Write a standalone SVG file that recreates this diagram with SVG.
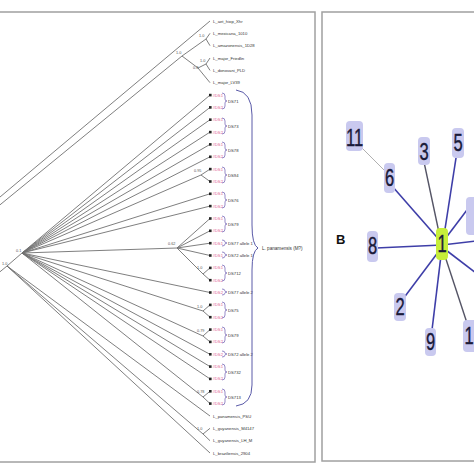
<svg xmlns="http://www.w3.org/2000/svg" width="474" height="474" viewBox="0 0 474 474">
<style>
.frame{fill:none;stroke:#a0a0a0;stroke-width:1.5}
.br{fill:none;stroke:#707070;stroke-width:0.9}
.lf{font-family:"Liberation Sans",Arial,sans-serif;font-size:4.2px;fill:#333}
.pk{font-family:"Liberation Sans",Arial,sans-serif;font-size:4.2px;fill:#e0608f}
.bs{font-family:"Liberation Sans",Arial,sans-serif;font-size:3.8px;fill:#555}
.sq{fill:#222}
.bk{fill:none;stroke:#6a5ab0;stroke-width:0.7}
.big{fill:none;stroke:#5a5aa8;stroke-width:1}
.nb{fill:#c9c9ef;stroke:none}
.nt{font-family:"Liberation Sans",Arial,sans-serif;font-size:23px;fill:#1a1a3a;stroke:#1a1a3a;stroke-width:0.4;text-anchor:middle}
.eb{stroke:#3e3ea8;stroke-width:1.6}
.eg{stroke:#555566;stroke-width:1.4}
.el{stroke:#b0b0b0;stroke-width:1}
</style>
<rect class="frame" x="-10" y="12" width="325" height="450"/>
<rect class="frame" x="322" y="12" width="170" height="449"/>
<g id="tree-branches">
<line class="br" x1="-10" y1="205.4" x2="210" y2="21"/>
<line class="br" x1="-10" y1="213" x2="182" y2="56"/>
<line class="br" x1="182" y1="56" x2="206" y2="39"/>
<line class="br" x1="206" y1="39" x2="210" y2="33.3"/>
<line class="br" x1="206" y1="39" x2="210" y2="45.7"/>
<line class="br" x1="182" y1="56" x2="198" y2="68"/>
<line class="br" x1="198" y1="68" x2="206" y2="64"/>
<line class="br" x1="206" y1="64" x2="210" y2="58"/>
<line class="br" x1="206" y1="64" x2="210" y2="70.4"/>
<line class="br" x1="198" y1="68" x2="210" y2="82.7"/>
<line class="br" x1="-10" y1="280" x2="7" y2="266"/>
<line class="br" x1="7" y1="266" x2="22" y2="253"/>
<line class="br" x1="7" y1="266" x2="210" y2="416"/>
<line class="br" x1="7" y1="266" x2="203" y2="434"/>
<line class="br" x1="203" y1="434" x2="210" y2="428.3"/>
<line class="br" x1="203" y1="434" x2="210" y2="440.7"/>
<line class="br" x1="7" y1="266" x2="210" y2="453"/>
<line class="br" x1="22" y1="253" x2="210" y2="95.1"/>
<line class="br" x1="22" y1="253" x2="210" y2="107.4"/>
<line class="br" x1="22" y1="253" x2="210" y2="119.7"/>
<line class="br" x1="22" y1="253" x2="210" y2="132.1"/>
<line class="br" x1="22" y1="253" x2="210" y2="144.4"/>
<line class="br" x1="22" y1="253" x2="210" y2="156.8"/>
<line class="br" x1="22" y1="253" x2="201" y2="175"/>
<line class="br" x1="201" y1="175" x2="210" y2="169.1"/>
<line class="br" x1="201" y1="175" x2="210" y2="181.5"/>
<line class="br" x1="22" y1="253" x2="210" y2="193.8"/>
<line class="br" x1="22" y1="253" x2="210" y2="206.1"/>
<line class="br" x1="22" y1="253" x2="177" y2="248"/>
<line class="br" x1="177" y1="248" x2="210" y2="218.5"/>
<line class="br" x1="177" y1="248" x2="210" y2="230.8"/>
<line class="br" x1="177" y1="248" x2="210" y2="243.2"/>
<line class="br" x1="177" y1="248" x2="210" y2="255.5"/>
<line class="br" x1="177" y1="248" x2="203" y2="274"/>
<line class="br" x1="203" y1="274" x2="210" y2="267.9"/>
<line class="br" x1="203" y1="274" x2="210" y2="280.2"/>
<line class="br" x1="22" y1="253" x2="210" y2="292.5"/>
<line class="br" x1="22" y1="253" x2="203" y2="311"/>
<line class="br" x1="203" y1="311" x2="210" y2="304.9"/>
<line class="br" x1="203" y1="311" x2="210" y2="317.2"/>
<line class="br" x1="22" y1="253" x2="203" y2="336"/>
<line class="br" x1="203" y1="336" x2="210" y2="329.6"/>
<line class="br" x1="203" y1="336" x2="210" y2="341.9"/>
<line class="br" x1="22" y1="253" x2="210" y2="354.3"/>
<line class="br" x1="22" y1="253" x2="210" y2="366.6"/>
<line class="br" x1="22" y1="253" x2="210" y2="378.9"/>
<line class="br" x1="22" y1="253" x2="203" y2="397"/>
<line class="br" x1="203" y1="397" x2="210" y2="391.3"/>
<line class="br" x1="203" y1="397" x2="210" y2="403.6"/>
</g>
<g id="support-values">
<text class="bs" x="199" y="37">1.0</text>
<text class="bs" x="176" y="54">1.0</text>
<text class="bs" x="200" y="62">1.0</text>
<text class="bs" x="193" y="69">0.8</text>
<text class="bs" x="16" y="252">0.1</text>
<text class="bs" x="2" y="265">1.0</text>
<text class="bs" x="194" y="172">0.95</text>
<text class="bs" x="168" y="245">0.62</text>
<text class="bs" x="197" y="269">1.0</text>
<text class="bs" x="197" y="308">1.0</text>
<text class="bs" x="197" y="332">0.79</text>
<text class="bs" x="197" y="393">0.78</text>
<text class="bs" x="197" y="430">1.0</text>
</g>
<g id="outgroup-leaves">
<text class="lf" x="213" y="22.5">L_aet_hiop_Xhr</text>
<text class="lf" x="213" y="34.8">L_mexicana_1010</text>
<text class="lf" x="213" y="47.2">L_amazonensis_1D28</text>
<text class="lf" x="213" y="59.5">L_major_Friedlin</text>
<text class="lf" x="213" y="71.9">L_donovani_PLD</text>
<text class="lf" x="213" y="84.2">L_major_LV39</text>
<text class="lf" x="213" y="417.5">L_panamensis_PSU</text>
<text class="lf" x="213" y="429.8">L_guyanensis_M4147</text>
<text class="lf" x="213" y="442.2">L_guyanensis_LH_M</text>
<text class="lf" x="213" y="454.5">L_braziliensis_2904</text>
</g>
<g id="panamensis-leaves">
<rect class="sq" x="209" y="93.8" width="2.6" height="2.6"/><text class="pk" x="212.5" y="96.6">#DS1</text>
<rect class="sq" x="209" y="106.1" width="2.6" height="2.6"/><text class="pk" x="212.5" y="108.9">#DS2</text>
<rect class="sq" x="209" y="118.4" width="2.6" height="2.6"/><text class="pk" x="212.5" y="121.2">#DS1</text>
<rect class="sq" x="209" y="130.8" width="2.6" height="2.6"/><text class="pk" x="212.5" y="133.6">#DS2</text>
<rect class="sq" x="209" y="143.1" width="2.6" height="2.6"/><text class="pk" x="212.5" y="145.9">#DS1</text>
<rect class="sq" x="209" y="155.5" width="2.6" height="2.6"/><text class="pk" x="212.5" y="158.3">#DS2</text>
<rect class="sq" x="209" y="167.8" width="2.6" height="2.6"/><text class="pk" x="212.5" y="170.6">#DS1</text>
<rect class="sq" x="209" y="180.2" width="2.6" height="2.6"/><text class="pk" x="212.5" y="183.0">#DS2</text>
<rect class="sq" x="209" y="192.5" width="2.6" height="2.6"/><text class="pk" x="212.5" y="195.3">#DS1</text>
<rect class="sq" x="209" y="204.8" width="2.6" height="2.6"/><text class="pk" x="212.5" y="207.6">#DS2</text>
<rect class="sq" x="209" y="217.2" width="2.6" height="2.6"/><text class="pk" x="212.5" y="220.0">#DS1</text>
<rect class="sq" x="209" y="229.5" width="2.6" height="2.6"/><text class="pk" x="212.5" y="232.3">#DS2</text>
<rect class="sq" x="209" y="241.9" width="2.6" height="2.6"/><text class="pk" x="212.5" y="244.7">#DS1</text>
<rect class="sq" x="209" y="254.2" width="2.6" height="2.6"/><text class="pk" x="212.5" y="257.0">#DS1</text>
<rect class="sq" x="209" y="266.6" width="2.6" height="2.6"/><text class="pk" x="212.5" y="269.4">#DS1</text>
<rect class="sq" x="209" y="278.9" width="2.6" height="2.6"/><text class="pk" x="212.5" y="281.7">#DS2</text>
<rect class="sq" x="209" y="291.2" width="2.6" height="2.6"/><text class="pk" x="212.5" y="294.0">#DS2</text>
<rect class="sq" x="209" y="303.6" width="2.6" height="2.6"/><text class="pk" x="212.5" y="306.4">#DS1</text>
<rect class="sq" x="209" y="315.9" width="2.6" height="2.6"/><text class="pk" x="212.5" y="318.7">#DS2</text>
<rect class="sq" x="209" y="328.3" width="2.6" height="2.6"/><text class="pk" x="212.5" y="331.1">#DS1</text>
<rect class="sq" x="209" y="340.6" width="2.6" height="2.6"/><text class="pk" x="212.5" y="343.4">#DS2</text>
<rect class="sq" x="209" y="353.0" width="2.6" height="2.6"/><text class="pk" x="212.5" y="355.8">#DS2</text>
<rect class="sq" x="209" y="365.3" width="2.6" height="2.6"/><text class="pk" x="212.5" y="368.1">#DS1</text>
<rect class="sq" x="209" y="377.6" width="2.6" height="2.6"/><text class="pk" x="212.5" y="380.4">#DS2</text>
<rect class="sq" x="209" y="390.0" width="2.6" height="2.6"/><text class="pk" x="212.5" y="392.8">#DS1</text>
<rect class="sq" x="209" y="402.3" width="2.6" height="2.6"/><text class="pk" x="212.5" y="405.1">#DS2</text>
</g>
<g id="strain-brackets">
<path class="bk" d="M222,93 q3,0 3,3 v3 q0,2 2,2 q-2,0 -2,2 v3 q0,3 -3,3"/><text class="lf" x="228" y="102.5">DS71</text>
<path class="bk" d="M222,118 q3,0 3,3 v3 q0,2 2,2 q-2,0 -2,2 v3 q0,3 -3,3"/><text class="lf" x="228" y="127.5">DS73</text>
<path class="bk" d="M222,142 q3,0 3,3 v3 q0,2 2,2 q-2,0 -2,2 v3 q0,3 -3,3"/><text class="lf" x="228" y="151.5">DS78</text>
<path class="bk" d="M222,167 q3,0 3,3 v3 q0,2 2,2 q-2,0 -2,2 v3 q0,3 -3,3"/><text class="lf" x="228" y="176.5">DS94</text>
<path class="bk" d="M222,192 q3,0 3,3 v3 q0,2 2,2 q-2,0 -2,2 v3 q0,3 -3,3"/><text class="lf" x="228" y="201.5">DS76</text>
<path class="bk" d="M222,216 q3,0 3,3 v3 q0,2 2,2 q-2,0 -2,2 v3 q0,3 -3,3"/><text class="lf" x="228" y="225.5">DS79</text>
<path class="bk" d="M222,240 q3,0 3,2 q0,1 2,1 q-2,0 -2,1 q0,2 -3,2"/><text class="lf" x="228" y="244.5">DS77 allele 1</text>
<path class="bk" d="M222,252 q3,0 3,2 q0,1 2,1 q-2,0 -2,1 q0,2 -3,2"/><text class="lf" x="228" y="257">DS72 allele 1</text>
<path class="bk" d="M222,265 q3,0 3,3 v3 q0,2 2,2 q-2,0 -2,2 v3 q0,3 -3,3"/><text class="lf" x="228" y="275">DS712</text>
<path class="bk" d="M222,289 q3,0 3,2 q0,1 2,1 q-2,0 -2,1 q0,2 -3,2"/><text class="lf" x="228" y="294">DS77 allele 2</text>
<path class="bk" d="M222,302 q3,0 3,3 v3 q0,2 2,2 q-2,0 -2,2 v3 q0,3 -3,3"/><text class="lf" x="228" y="312">DS75</text>
<path class="bk" d="M222,327 q3,0 3,3 v3 q0,2 2,2 q-2,0 -2,2 v3 q0,3 -3,3"/><text class="lf" x="228" y="336.5">DS79</text>
<path class="bk" d="M222,351 q3,0 3,2 q0,1 2,1 q-2,0 -2,1 q0,2 -3,2"/><text class="lf" x="228" y="356">DS72 allele 2</text>
<path class="bk" d="M222,364 q3,0 3,3 v3 q0,2 2,2 q-2,0 -2,2 v3 q0,3 -3,3"/><text class="lf" x="228" y="373.5">DS732</text>
<path class="bk" d="M222,389 q3,0 3,3 v3 q0,2 2,2 q-2,0 -2,2 v3 q0,3 -3,3"/><text class="lf" x="228" y="398.5">DS713</text>
</g>
<g id="panamensis-brace">
<path class="big" d="M236,90 Q252,92 252,115 V225 Q252,245 258,248 Q252,251 252,270 V385 Q252,404 236,406"/>
<text class="lf" x="262" y="249.5" style="font-size:4.6px">L. panamensis (M?)</text>
</g>
<g id="network-edges">
<line class="el" x1="360" y1="146" x2="388" y2="174"/>
<line class="eb" x1="442" y1="243" x2="392" y2="186"/>
<line class="eg" x1="441" y1="242" x2="424" y2="162"/>
<line class="eb" x1="443" y1="242" x2="456" y2="158"/>
<line class="eb" x1="442" y1="245" x2="376" y2="248"/>
<line class="eb" x1="442" y1="247" x2="403" y2="299"/>
<line class="eb" x1="442" y1="247" x2="432" y2="330"/>
<line class="eg" x1="442" y1="247" x2="467" y2="323"/>
<line class="eb" x1="442" y1="245" x2="476" y2="241"/>
<line class="eb" x1="442" y1="243" x2="470" y2="206"/>
<line class="eb" x1="442" y1="247" x2="476" y2="273"/>
</g>
<g id="n-edge-right"><rect class="nb" x="466" y="197" width="14" height="38" rx="4"/></g>
<g id="n11"><rect class="nb" x="346" y="121" width="17" height="30" rx="4"/><text class="nt" transform="translate(354.5,146) scale(0.72,1)">11</text></g>
<g id="n3"><rect class="nb" x="418" y="137" width="12" height="28" rx="4"/><text class="nt" transform="translate(424,160) scale(0.72,1)">3</text></g>
<g id="n5"><rect class="nb" x="452" y="128" width="12" height="30" rx="4"/><text class="nt" transform="translate(458,151) scale(0.72,1)">5</text></g>
<g id="n6"><rect class="nb" x="384" y="163" width="11" height="30" rx="4"/><text class="nt" transform="translate(389.5,186) scale(0.72,1)">6</text></g>
<g id="n8"><rect class="nb" x="367" y="231" width="11" height="31" rx="4"/><text class="nt" transform="translate(372.5,254) scale(0.72,1)">8</text></g>
<g id="n1"><rect x="436" y="228" width="12" height="32" rx="4" fill="#c6ee3a"/><text class="nt" transform="translate(442,252) scale(0.72,1)">1</text></g>
<g id="n2"><rect class="nb" x="394" y="293" width="12" height="28" rx="4"/><text class="nt" transform="translate(400,315) scale(0.72,1)">2</text></g>
<g id="n9"><rect class="nb" x="425" y="328" width="11" height="28" rx="4"/><text class="nt" transform="translate(430.5,350) scale(0.72,1)">9</text></g>
<g id="n10"><rect class="nb" x="463" y="320" width="16" height="32" rx="4"/><text class="nt" transform="translate(469,344) scale(0.72,1)">1</text></g>
<g id="label-B"><text x="336" y="244" style="font-family:'Liberation Sans',Arial,sans-serif;font-size:13px;font-weight:bold;fill:#111">B</text></g>
</svg>
